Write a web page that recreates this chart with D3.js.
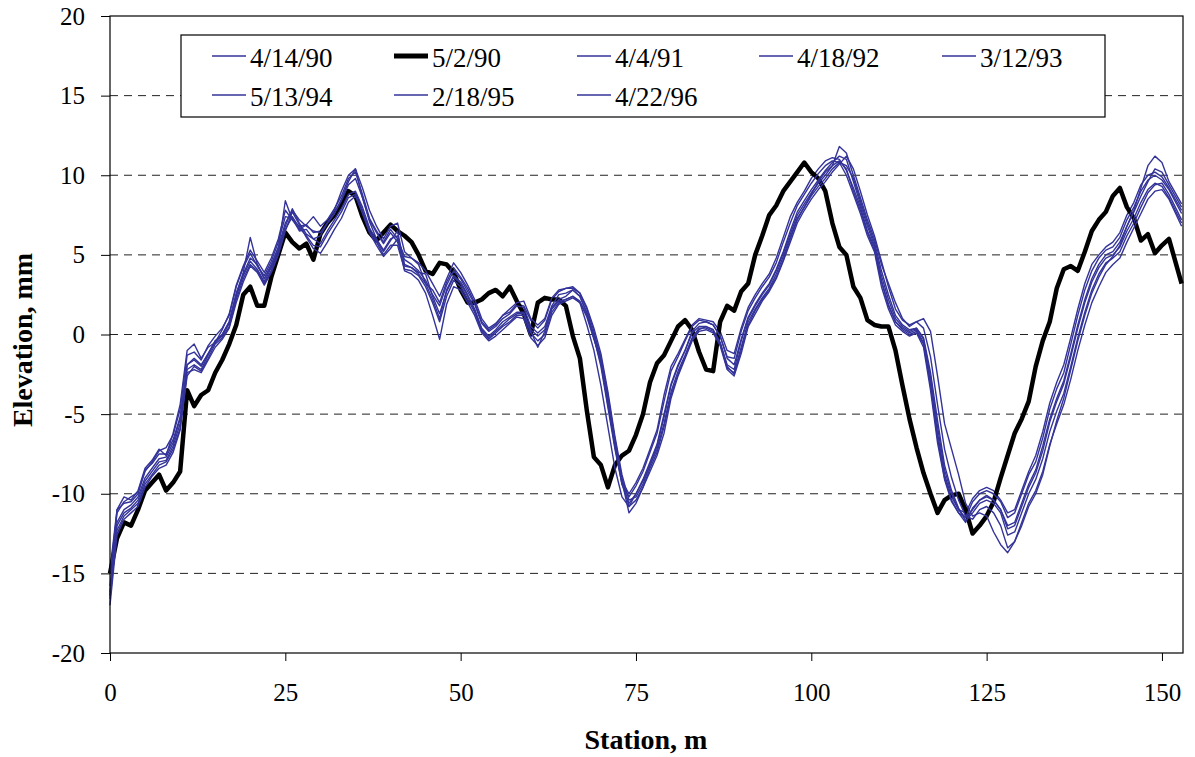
<!DOCTYPE html>
<html>
<head>
<meta charset="utf-8">
<script src="https://cdn.jsdelivr.net/npm/d3@7"></script>
<style>
  body { margin: 0; background: #fff; }
  svg, svg text { font-family: "Liberation Serif", "Times New Roman", serif; }
  .axis text { font-size: 25px; fill: #000; font-family: "Liberation Serif", "Times New Roman", serif; }
  .axis line, .axis path { stroke: #000; }
</style>
</head>
<body>
<svg id="chart"></svg>
<script>
// stations every metre, last reading at 152.8 m
const station = d3.range(0, 152).concat([152.8]);

const s041490 = [-14.8,-11.0,-10.2,-10.4,-9.8,-8.4,-7.9,-7.2,-7.6,-6.2,
  -4.4,-1.0,-0.6,-1.5,-0.8,-0.5,0.3,1.3,3.1,4.3,
  5.3,4.6,3.9,4.8,6.0,7.8,7.2,6.6,6.9,6.4,
  6.5,7.2,7.9,8.7,9.8,10.2,8.8,7.3,6.5,5.8,
  6.6,6.0,4.9,4.8,4.4,3.2,2.8,2.0,3.3,4.2,
  3.6,2.9,2.0,0.8,0.3,0.6,1.2,1.4,1.9,1.8,
  0.9,0.4,0.9,2.2,2.7,2.9,2.9,2.6,1.6,0.2,
  -1.6,-4.2,-7.0,-9.2,-10.0,-9.3,-8.4,-7.2,-6.0,-3.8,
  -2.0,-1.2,-0.3,0.6,1.0,0.9,0.8,0.2,-1.0,-1.2,
  0.4,1.7,2.5,3.2,3.8,4.8,6.1,7.4,8.3,9.0,
  9.8,10.4,10.9,11.1,11.0,10.3,9.2,8.0,6.5,5.5,
  3.4,1.9,0.8,0.4,0.1,0.3,-0.5,-3.0,-6.2,-8.8,
  -10.2,-11.0,-11.2,-10.3,-9.8,-9.6,-9.8,-10.4,-11.2,-11.0,
  -9.8,-8.6,-7.6,-6.1,-4.3,-3.0,-1.9,-0.2,1.6,3.2,
  4.4,5.0,5.5,5.8,6.4,7.5,8.3,9.4,10.0,10.2,
  9.9,9.2,7.8];

const s050290 = [-15.0,-12.8,-11.8,-12.0,-11.0,-9.8,-9.3,-8.8,-9.8,-9.3,
  -8.6,-3.5,-4.5,-3.8,-3.5,-2.4,-1.6,-0.6,0.6,2.5,
  3.0,1.8,1.8,3.6,5.0,6.4,5.8,5.4,5.7,4.7,
  6.3,7.0,7.5,8.2,9.0,8.7,7.4,6.4,5.9,6.4,
  6.9,6.5,6.2,5.8,5.0,4.0,3.8,4.5,4.4,3.9,
  2.8,2.0,2.0,2.2,2.6,2.8,2.4,3.0,2.1,1.3,
  0.0,2.0,2.3,2.2,2.2,1.8,-0.1,-1.5,-4.8,-7.7,
  -8.2,-9.6,-8.2,-7.6,-7.3,-6.3,-5.0,-3.0,-1.8,-1.3,
  -0.4,0.5,0.9,0.3,-1.1,-2.2,-2.3,0.8,1.8,1.5,
  2.7,3.2,5.0,6.2,7.5,8.1,9.0,9.6,10.2,10.8,
  10.2,9.8,9.0,7.0,5.5,5.0,3.0,2.3,0.9,0.6,
  0.5,0.5,-1.0,-3.2,-5.3,-7.1,-8.7,-10.0,-11.2,-10.4,
  -10.1,-10.0,-11.0,-12.5,-12.0,-11.4,-10.5,-9.0,-7.6,-6.2,
  -5.3,-4.2,-2.0,-0.4,0.8,2.9,4.1,4.3,4.0,5.2,
  6.5,7.2,7.7,8.7,9.2,8.0,7.3,5.9,6.3,5.1,
  5.6,6.0,3.2];

const s040491 = [-16.2,-12.0,-11.2,-10.9,-10.4,-9.2,-8.6,-8.0,-7.9,-7.0,
  -5.6,-2.2,-1.9,-2.2,-1.3,-0.4,-0.1,0.7,2.4,3.7,
  4.6,4.1,3.3,4.2,5.3,6.8,7.9,7.0,6.3,6.0,
  5.7,6.5,7.2,7.9,8.8,9.0,8.0,6.7,5.9,5.2,
  5.9,6.5,4.3,4.2,3.9,3.8,2.4,1.3,2.7,3.6,
  3.2,2.4,1.5,0.3,-0.2,0.2,0.6,1.0,1.3,1.3,
  0.3,-0.1,0.3,1.6,2.1,2.2,2.4,2.0,0.6,-1.0,
  -3.2,-5.8,-8.4,-10.2,-10.8,-10.0,-9.1,-8.0,-6.9,-5.0,
  -3.1,-1.9,-1.0,0.1,0.5,0.5,0.3,-0.5,-1.9,-2.2,
  -0.4,1.0,1.8,2.5,3.1,4.0,5.1,6.3,7.5,8.2,
  8.9,9.5,10.0,10.6,10.9,10.4,9.0,7.8,6.4,5.3,
  3.3,1.8,0.8,0.3,0.0,0.2,-0.6,-3.2,-6.5,-9.0,
  -10.4,-11.2,-11.8,-10.9,-10.4,-10.2,-10.4,-11.0,-12.2,-12.0,
  -10.8,-9.6,-8.7,-7.3,-5.5,-4.2,-3.1,-1.4,0.4,2.0,
  3.3,4.2,4.8,5.0,5.5,6.5,7.3,8.3,9.1,9.5,
  9.3,8.6,7.0];

const s041892 = [-15.0,-11.2,-10.5,-10.2,-9.9,-8.6,-8.0,-7.3,-7.1,-6.3,
  -4.7,-1.3,-1.1,-1.6,-0.7,-0.1,0.4,1.2,3.0,4.2,
  5.1,4.3,3.7,4.6,5.8,7.4,7.3,6.5,6.6,6.0,
  6.2,7.0,7.6,8.4,9.4,9.8,8.6,7.2,6.4,5.7,
  6.4,5.8,4.7,4.4,4.0,3.4,2.5,1.8,3.1,4.0,
  3.5,2.7,1.9,0.7,0.2,0.5,1.0,1.3,1.8,1.7,
  0.5,0.1,0.5,1.8,2.5,2.6,2.8,2.4,1.3,-0.2,
  -2.0,-4.6,-7.2,-9.4,-10.2,-9.5,-8.6,-7.4,-6.2,-4.2,
  -2.3,-1.4,-0.4,0.5,0.9,0.8,0.6,-0.1,-1.4,-1.5,
  0.2,1.5,2.3,3.0,3.6,4.5,5.8,7.0,8.1,8.8,
  9.5,10.1,10.6,10.9,10.8,10.0,8.8,7.6,6.2,5.2,
  3.0,1.6,0.6,0.2,-0.1,0.1,-0.8,-3.5,-6.8,-9.1,
  -10.5,-11.2,-11.5,-10.5,-10.0,-9.8,-10.0,-10.5,-11.5,-11.2,
  -10.0,-8.8,-8.0,-6.5,-4.7,-3.4,-2.4,-0.6,1.2,2.8,
  4.0,4.8,5.3,5.5,6.1,7.2,8.0,9.0,9.7,10.0,
  9.7,9.1,7.6];

const s031293 = [-16.6,-12.3,-11.4,-11.0,-10.6,-9.4,-8.8,-8.2,-8.0,-7.2,
  -5.9,-2.6,-2.0,-2.3,-1.5,-0.6,-0.2,0.5,2.2,3.5,
  4.4,4.0,3.2,4.0,5.1,6.6,7.4,6.7,6.2,5.6,
  5.5,6.3,7.0,7.7,8.6,8.8,7.8,6.5,5.8,5.0,
  5.6,5.6,4.1,4.0,3.7,3.0,2.0,0.8,2.4,3.4,
  3.0,2.2,1.4,0.2,-0.3,0.1,0.5,0.8,1.2,1.2,
  0.1,-0.4,0.0,1.4,2.0,2.2,2.4,2.1,1.2,-0.2,
  -1.8,-4.4,-7.0,-9.4,-10.6,-10.0,-9.2,-8.2,-7.2,-5.6,
  -3.6,-2.3,-1.3,-0.2,0.4,0.4,0.2,-0.6,-2.1,-2.4,
  -0.8,0.8,1.6,2.3,2.9,3.8,4.9,6.1,7.3,8.0,
  8.7,9.3,9.8,10.4,10.8,10.6,9.8,8.4,7.0,5.8,
  4.0,2.5,1.2,0.6,0.3,0.4,-0.2,-2.4,-5.4,-8.2,
  -9.8,-10.9,-11.7,-11.2,-10.6,-10.4,-10.6,-11.2,-12.6,-12.4,
  -11.2,-10.0,-9.1,-7.8,-6.1,-4.8,-3.7,-2.0,-0.2,1.4,
  2.8,3.8,4.5,4.8,5.2,6.2,7.0,8.0,8.9,9.4,
  9.5,8.8,7.2];

const s051394 = [-17.0,-12.6,-11.6,-11.2,-10.8,-9.6,-8.9,-8.4,-8.2,-7.4,
  -6.0,-2.4,-2.2,-2.4,-1.6,-0.8,-0.3,0.4,2.0,3.3,
  4.3,3.9,3.1,3.9,5.0,6.5,7.7,6.9,6.1,5.4,
  5.1,5.8,6.6,7.3,8.3,8.7,7.6,6.4,5.6,4.9,
  5.4,6.0,4.0,3.8,3.4,2.6,1.2,-0.3,1.9,3.0,
  2.8,2.0,1.2,0.1,-0.4,-0.1,0.3,0.7,1.1,1.0,
  -0.2,-0.7,-0.2,1.2,1.9,2.1,2.3,2.0,1.1,-0.3,
  -1.6,-4.0,-6.6,-9.0,-10.8,-10.4,-9.6,-8.6,-7.6,-6.2,
  -4.0,-2.6,-1.5,-0.4,0.2,0.3,0.1,-0.7,-2.2,-2.6,
  -1.2,0.5,1.3,2.1,2.7,3.5,4.6,5.8,7.0,7.8,
  8.5,9.1,9.6,10.2,10.7,11.2,10.4,9.0,7.5,6.2,
  4.6,3.0,1.6,0.9,0.6,0.8,0.4,-1.4,-4.4,-7.2,
  -9.0,-10.4,-11.4,-11.6,-11.0,-10.8,-11.2,-12.0,-13.4,-13.0,
  -11.8,-10.6,-9.8,-8.6,-6.9,-5.6,-4.4,-2.8,-1.0,0.6,
  2.0,3.0,3.9,4.4,4.8,5.8,6.7,7.6,8.5,9.0,
  9.1,8.5,6.8];

const s021895 = [-15.8,-11.8,-11.0,-10.7,-10.2,-9.0,-8.4,-7.8,-7.7,-6.8,
  -5.3,-1.9,-1.6,-2.0,-1.2,-0.4,0.0,0.8,2.6,3.8,
  4.8,4.4,3.5,4.4,5.5,7.0,7.8,7.2,6.8,6.5,
  6.4,7.0,7.6,8.5,9.6,10.4,9.2,7.8,6.8,6.0,
  6.8,7.0,5.2,4.8,4.5,4.0,3.2,2.4,3.5,4.5,
  3.9,3.1,2.2,1.0,0.4,0.7,1.2,1.6,2.0,2.1,
  1.0,0.6,1.0,2.3,2.8,2.9,3.0,2.6,1.7,0.4,
  -1.2,-3.6,-6.4,-8.8,-10.4,-10.2,-9.4,-8.2,-7.0,-5.2,
  -3.2,-2.0,-1.0,0.2,0.7,0.8,0.6,-0.1,-1.5,-1.9,
  -0.3,1.1,1.9,2.6,3.2,4.1,5.2,6.5,7.7,8.4,
  9.1,9.7,10.3,10.8,11.2,11.0,9.6,8.2,6.8,5.6,
  3.7,2.2,1.0,0.5,0.2,0.4,-0.3,-2.7,-5.8,-8.5,
  -10.0,-11.0,-11.5,-11.0,-10.4,-10.1,-10.4,-11.0,-12.0,-11.8,
  -10.6,-9.4,-8.5,-7.0,-5.3,-4.0,-2.9,-1.2,0.6,2.2,
  3.5,4.4,5.0,5.2,5.8,6.8,7.7,8.7,9.6,10.4,
  10.2,9.4,8.0];

const s042296 = [-16.4,-11.0,-10.6,-10.5,-10.0,-8.5,-8.1,-7.5,-7.5,-6.6,
  -5.2,-1.9,-1.5,-1.9,-1.2,-0.5,0.0,0.8,2.5,3.9,
  6.1,4.4,3.5,4.3,5.4,8.4,7.2,6.8,6.9,7.4,
  6.8,7.2,7.8,9.0,10.0,10.4,8.6,7.1,6.0,5.3,
  6.0,6.2,4.4,4.2,3.8,3.2,2.2,1.0,2.8,3.7,
  3.3,2.5,1.6,0.4,-0.1,0.3,0.8,1.1,1.4,1.4,
  0.2,-0.8,0.2,1.7,2.2,2.4,2.8,2.4,1.4,0.0,
  -1.4,-3.8,-6.6,-9.2,-11.2,-10.6,-9.6,-8.4,-7.4,-5.8,
  -3.8,-2.5,-1.4,-0.3,0.3,0.5,0.3,-0.5,-2.0,-2.5,
  -1.0,0.6,1.5,2.2,2.8,3.6,4.7,6.0,7.2,8.0,
  8.8,9.6,10.2,10.6,11.8,11.4,10.0,8.6,7.2,6.0,
  4.4,3.2,2.0,1.0,0.5,0.8,1.0,0.2,-2.6,-5.6,
  -7.2,-8.8,-10.6,-11.4,-11.2,-11.4,-12.4,-13.2,-13.7,-13.0,
  -12.0,-10.8,-10.0,-8.8,-7.0,-5.4,-4.0,-2.2,-0.4,1.2,
  2.6,3.6,4.4,4.9,5.6,6.8,7.8,9.2,10.6,11.2,
  10.8,9.6,8.2];

const seriesNames = ["4/14/90", "5/2/90", "4/4/91", "4/18/92", "3/12/93", "5/13/94", "2/18/95", "4/22/96"];
const seriesValues = [s041490, s050290, s040491, s041892, s031293, s051394, s021895, s042296];
const yTicks = [-20, -15, -10, -5, 0, 5, 10, 15, 20];
const xTicks = [0, 25, 50, 75, 100, 125, 150];

const width = 1195, height = 757;
const margin = {top: 16, right: 12, bottom: 104, left: 110};

const svg = d3.select("#chart").attr("width", width).attr("height", height);

const x = d3.scaleLinear().domain([0, 153]).range([margin.left, width - margin.right]);
const y = d3.scaleLinear().domain([-20, 20]).range([height - margin.bottom, margin.top]);

// dashed gridlines
svg.append("g")
    .selectAll("line")
    .data(yTicks.filter(d => d > -20 && d < 20))
    .enter()
    .append("line")
    .attr("x1", x(0))
    .attr("x2", x(153))
    .attr("y1", d => y(d))
    .attr("y2", d => y(d))
    .attr("stroke", "#222")
    .attr("stroke-width", 1)
    .attr("stroke-dasharray", "8,6");

// series
const line = d3.line()
    .x((d, i) => x(station[i]))
    .y(d => y(d));

seriesValues.forEach((vals, i) => {
    const black = seriesNames[i] === "5/2/90";
    svg.append("path")
        .datum(vals)
        .attr("fill", "none")
        .attr("stroke", black ? "#000" : "#333399")
        .attr("stroke-width", black ? 4.5 : 1.4)
        .attr("stroke-linejoin", "round")
        .attr("d", line);
});

// frame
svg.append("rect")
    .attr("x", x(0))
    .attr("y", y(20))
    .attr("width", x(153) - x(0))
    .attr("height", y(-20) - y(20))
    .attr("fill", "none")
    .attr("stroke", "#000")
    .attr("stroke-width", 1.2);

// axes
svg.append("g")
    .attr("class", "axis")
    .attr("transform", `translate(0,${y(-20)})`)
    .call(d3.axisBottom(x).tickValues(xTicks).tickSize(8).tickSizeOuter(0).tickPadding(22)
        .tickFormat(d => String(d)))
    .call(g => g.select(".domain").remove());

svg.append("g")
    .attr("class", "axis")
    .attr("transform", `translate(${x(0)},0)`)
    .call(d3.axisLeft(y).tickValues(yTicks).tickSize(9).tickSizeOuter(0).tickPadding(16)
        .tickFormat(d => String(d)))
    .call(g => g.select(".domain").remove());

// axis titles
svg.append("text")
    .attr("x", 646)
    .attr("y", 749)
    .attr("text-anchor", "middle")
    .style("font-size", "28px")
    .style("font-weight", "bold")
    .text("Station, m");

svg.append("text")
    .attr("transform", "rotate(-90)")
    .attr("x", -340)
    .attr("y", 32)
    .attr("text-anchor", "middle")
    .style("font-size", "28px")
    .style("font-weight", "bold")
    .text("Elevation, mm");

// legend
const legend = svg.append("g");
legend.append("rect")
    .attr("x", 181).attr("y", 35)
    .attr("width", 924).attr("height", 82)
    .attr("fill", "#fff")
    .attr("stroke", "#000")
    .attr("stroke-width", 1.2);

const colX = [212, 394, 577, 759, 942];
const rowY = [67, 106];
seriesNames.forEach((name, i) => {
    const cx = colX[i % 5], cy = rowY[Math.floor(i / 5)];
    const black = name === "5/2/90";
    legend.append("line")
        .attr("x1", cx).attr("x2", cx + 34)
        .attr("y1", cy - 11).attr("y2", cy - 11)
        .attr("stroke", black ? "#000" : "#333399")
        .attr("stroke-width", black ? 5 : 1.5);
    legend.append("text")
        .attr("x", cx + 38)
        .attr("y", cy)
        .style("font-size", "27px")
        .text(name);
});
</script>
</body>
</html>
